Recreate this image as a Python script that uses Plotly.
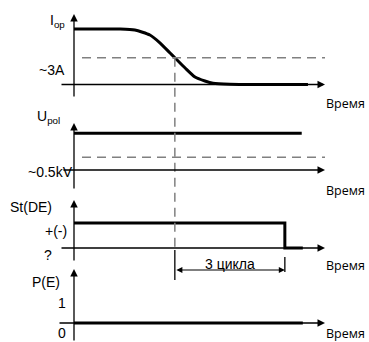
import plotly.graph_objects as go

# ---------------- data (time in power-frequency cycles) ----------------
iop_t = [0.0, 1.25, 1.66, 2.07, 2.35, 2.62, 2.75, 3.03, 3.30, 3.57, 3.79, 4.25, 6.38]
iop_a = [6.2, 6.2, 6.1, 5.54, 4.64, 3.52, 3.0, 1.85, 0.84, 0.39, 0.13, 0.02, 0.0]
I_THRESHOLD = 3.0            # ~3A

upol_t = [0.0, 6.21]
upol_kv = [1.45, 1.45]
U_THRESHOLD = 0.5            # ~0.5kV

st_t = [0.0, 5.75, 5.75, 6.24]
st_v = [1, 1, 0, 0]          # +(-) -> ?

pe_t = [0.0, 6.24]
pe_v = [0, 0]

T_CROSS = 2.75               # moment Iop falls below ~3A
N_CYCLES = 3                 # "3 цикла"

y_labels = ["I<sub>op</sub>", "U<sub>pol</sub>", "St(DE)", "P(E)"]
level_labels = [["~3A"], ["~0.5kV"], ["+(-)", "?"], ["1", "0"]]
x_label = "Время"
dim_label = "3 цикла"

# ---------------- layout geometry (pixels) ----------------
W, H = 369, 342
X0 = 74.0          # pixel of t = 0 (vertical axes)
PPC = 36.67        # pixels per cycle
XEND = 325.0       # arrow tip of time axes

panels = [  # top, bottom (domain) ; base = pixel of value 0 ; ppu = pixels per unit
    dict(top=0, bottom=108, base=84.5, ppu=26.8 / 3, tip=14, axb=98, start=60),
    dict(top=108, bottom=196, base=170, ppu=12.7 / 0.5, tip=123, axb=190, start=62),
    dict(top=196, bottom=286, base=248, ppu=25.0, tip=200, axb=262, start=60),
    dict(top=262, bottom=342, base=323, ppu=21.0, tip=269, axb=342, start=58),
]


def px2t(px):
    return (px - X0) / PPC


def py2paper(py):
    return 1 - py / H


xr = [px2t(0), px2t(W)]

fig = go.Figure()
series = [(iop_t, iop_a), (upol_t, upol_kv), (st_t, st_v), (pe_t, pe_v)]
for i, (t, v) in enumerate(series):
    sfx = "" if i == 0 else str(i + 1)
    fig.add_trace(go.Scatter(x=t, y=v, mode="lines", xaxis="x" + sfx, yaxis="y" + sfx,
                             line=dict(color="black", width=3,
                                       shape="spline" if i == 0 else "linear", smoothing=0.6),
                             hoverinfo="skip", showlegend=False, cliponaxis=False))

layout = dict(width=W, height=H, margin=dict(l=0, r=0, t=0, b=0),
              paper_bgcolor="white", plot_bgcolor="rgba(0,0,0,0)", showlegend=False)
for i, p in enumerate(panels):
    sfx = "" if i == 0 else str(i + 1)
    layout["xaxis" + sfx] = dict(range=xr, visible=False, anchor="y" + sfx, domain=[0, 1], fixedrange=True)
    layout["yaxis" + sfx] = dict(range=[(p["base"] - p["bottom"]) / p["ppu"], (p["base"] - p["top"]) / p["ppu"]],
                                 domain=[py2paper(p["bottom"]), py2paper(p["top"])],
                                 visible=False, anchor="x" + sfx, fixedrange=True)
fig.update_layout(**layout)

DASH = dict(color="#808080", width=1.5, dash="9px,6px")
# threshold lines
fig.add_shape(type="line", xref="x", yref="y", x0=px2t(82), x1=px2t(XEND),
              y0=I_THRESHOLD, y1=I_THRESHOLD, line=DASH)
fig.add_shape(type="line", xref="x2", yref="y2", x0=px2t(82), x1=px2t(XEND),
              y0=U_THRESHOLD, y1=U_THRESHOLD, line=DASH)
# vertical dashed marker from threshold crossing
p0 = panels[0]
fig.add_shape(type="line", xref="x", yref="paper", x0=T_CROSS, x1=T_CROSS,
              y0=py2paper(p0["base"] - I_THRESHOLD * p0["ppu"]), y1=py2paper(250), line=DASH)
# dimension ticks
fig.add_shape(type="line", xref="x", yref="paper", x0=T_CROSS, x1=T_CROSS,
              y0=py2paper(250), y1=py2paper(280), line=dict(color="black", width=1.3))
fig.add_shape(type="line", xref="x", yref="paper", x0=T_CROSS + N_CYCLES, x1=T_CROSS + N_CYCLES,
              y0=py2paper(257), y1=py2paper(272), line=dict(color="black", width=1.3))

ann = []


def arrow(hx, hy, tx, ty, head=2, size=1.15, width=1.3):
    return dict(xref="paper", yref="paper", x=hx / W, y=py2paper(hy), ax=tx - hx, ay=ty - hy,
                axref="pixel", ayref="pixel", showarrow=True, arrowhead=head, arrowsize=size,
                arrowwidth=width, arrowcolor="black", text="", standoff=0, startstandoff=0)


for p in panels:
    ann.append(arrow(X0, p["tip"], X0, p["axb"]))
    ann.append(arrow(XEND, p["base"], p["start"], p["base"]))

# dimension arrow (double headed)
ann.append(dict(xref="x", yref="paper", x=T_CROSS + N_CYCLES, y=py2paper(270), ax=T_CROSS, ay=0,
                axref="x", ayref="pixel", showarrow=True, arrowhead=2, startarrowhead=2,
                arrowside="end+start", arrowsize=1.1, startarrowsize=1.1, arrowwidth=1.1,
                arrowcolor="black", text="", standoff=0, startstandoff=0))

LAB = dict(family="Liberation Sans, Arial, sans-serif", size=14, color="black")
TIME = dict(family="Open Sans, sans-serif", size=12.5, color="black")


def label(text, px, py, xanchor="right", font=LAB):
    return dict(xref="paper", yref="paper", x=px / W, y=py2paper(py), text=text, showarrow=False,
                xanchor=xanchor, yanchor="middle", font=font, borderpad=0)


ann.append(label(y_labels[0], 66, 21))
ann.append(label(level_labels[0][0], 66, 70))
ann.append(label(y_labels[1], 36, 117, "left"))
ann.append(label(level_labels[1][0], 74, 172))
ann.append(label(y_labels[2], 9, 207, "left"))
ann.append(label(level_labels[2][0], 68, 231))
ann.append(label(level_labels[2][1], 53, 255))
ann.append(label(y_labels[3], 61, 282))
ann.append(label(level_labels[3][0], 67, 303))
ann.append(label(level_labels[3][1], 67, 333))
for ty in [103, 190, 265, 333]:
    ann.append(label(x_label, 325, ty, "left", TIME))
ann.append(dict(xref="x", yref="paper", x=T_CROSS + N_CYCLES / 2, y=py2paper(264), text=dim_label,
                showarrow=False, xanchor="center", yanchor="middle", font=LAB, borderpad=0))

fig.update_layout(annotations=ann)
fig.write_html("out.html", config={"displayModeBar": False},
               post_script="document.body.style.margin='0';document.body.style.overflow='hidden';")
